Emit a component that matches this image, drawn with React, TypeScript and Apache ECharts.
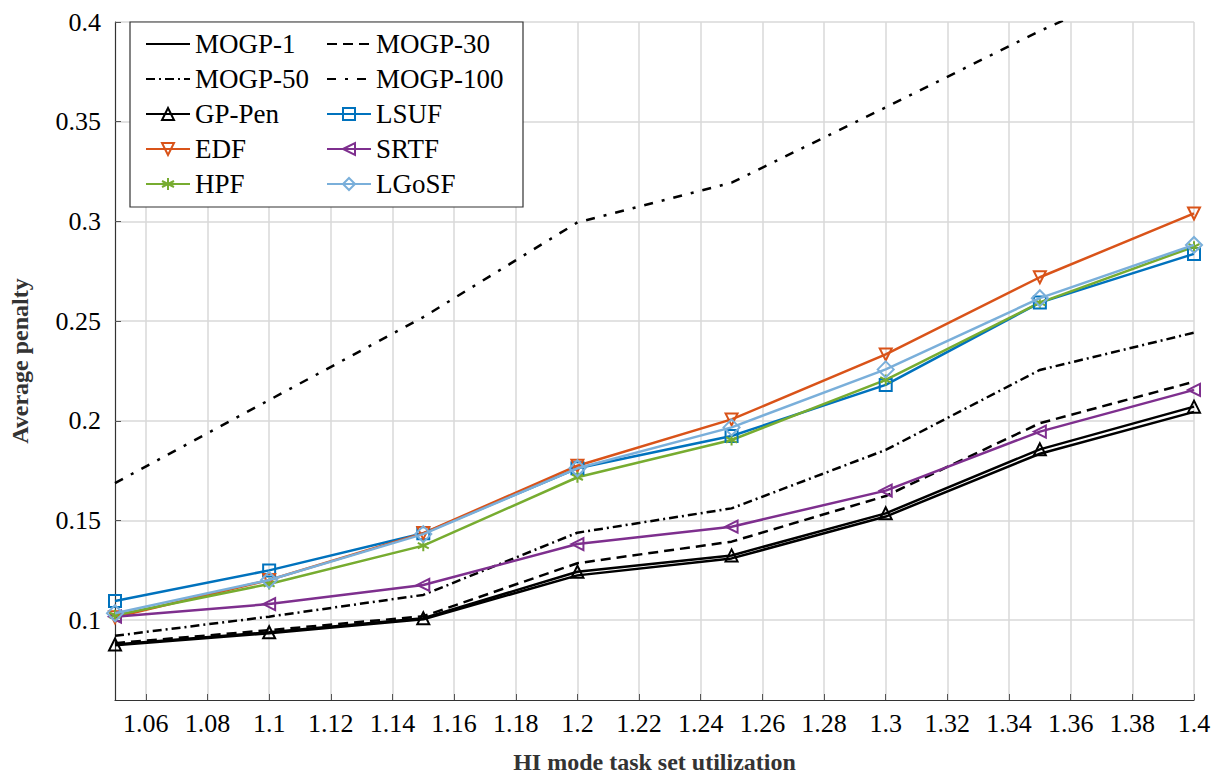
import React, { useEffect, useRef } from "react";
import * as echarts from "echarts";

const xValues = [1.05, 1.1, 1.15, 1.2, 1.25, 1.3, 1.35, 1.4];
const mogp1 = [0.0875, 0.0935, 0.1005, 0.1225, 0.131, 0.152, 0.1835, 0.2045];
const mogp30 = [0.0885, 0.095, 0.102, 0.1286, 0.1394, 0.1623, 0.1988, 0.2196];
const mogp50 = [0.0922, 0.1018, 0.1127, 0.1439, 0.1561, 0.1854, 0.2255, 0.2442];
const mogp100 = [0.1688, 0.2104, 0.252, 0.2995, 0.3194, 0.3572, 0.3955, 0.43];
const gpPen = [0.0878, 0.094, 0.101, 0.1243, 0.1325, 0.1536, 0.1857, 0.2071];
const lsuf = [0.1096, 0.125, 0.1436, 0.1762, 0.1924, 0.218, 0.2593, 0.2837];
const edf = [0.1015, 0.1202, 0.1437, 0.1775, 0.2007, 0.2333, 0.272, 0.304];
const srtf = [0.1018, 0.1081, 0.1177, 0.1382, 0.1469, 0.165, 0.1946, 0.2155];
const hpf = [0.1025, 0.1182, 0.1374, 0.1717, 0.1904, 0.2205, 0.2593, 0.2873];
const lgosf = [0.1035, 0.1202, 0.1432, 0.1762, 0.1967, 0.2258, 0.2615, 0.2882];

const xTicks = [1.06, 1.08, 1.1, 1.12, 1.14, 1.16, 1.18, 1.2, 1.22, 1.24, 1.26, 1.28, 1.3, 1.32, 1.34, 1.36, 1.38, 1.4];
const yTicks = [0.1, 0.15, 0.2, 0.25, 0.3, 0.35, 0.4];

const legendCol1 = ["MOGP-1", "MOGP-50", "GP-Pen", "EDF", "HPF"];
const legendCol2 = ["MOGP-30", "MOGP-100", "LSUF", "SRTF", "LGoSF"];

const SERIF = "Liberation Serif, Times New Roman, serif";
const ASTERISK = "path://M5,0L5,10M0.67,2.5L9.33,7.5M0.67,7.5L9.33,2.5";

const pairs = (ys: number[]) => xValues.map((x, i) => [x, ys[i]]);

function plainLine(name: string, ys: number[], type: any) {
  return {
    name,
    type: "line",
    data: pairs(ys),
    symbol: "none",
    z: 2,
    itemStyle: { color: "rgba(0,0,0,0)", borderWidth: 0 },
    lineStyle: { color: "#000", width: 2.5, type },
  };
}

function markLine(name: string, ys: number[], color: string, symbol: string, size: number, rotate = 0, z = 3) {
  return {
    name,
    type: "line",
    data: pairs(ys),
    symbol,
    symbolSize: size,
    symbolRotate: rotate,
    z,
    itemStyle: { color: "rgba(0,0,0,0)", borderColor: color, borderWidth: 2 },
    lineStyle: { color, width: 2.5 },
  };
}

function legendOf(data: string[], left: number) {
  return {
    data,
    orient: "vertical",
    left,
    top: 24,
    itemWidth: 44,
    itemHeight: 15,
    itemGap: 5,
    textStyle: { fontFamily: SERIF, fontSize: 27, color: "#000", lineHeight: 30 },
    selectedMode: false,
  };
}

export default function App() {
  const ref = useRef<HTMLDivElement>(null);
  useEffect(() => {
    const chart = echarts.init(ref.current!, null, { renderer: "svg" });
    const fmt = (v: number) => String(Number(v.toFixed(2)));
    chart.setOption({
      animation: false,
      backgroundColor: "#fff",
      textStyle: { fontFamily: SERIF },
      grid: { left: 115, right: 26, top: 22, bottom: 76, containLabel: false, outerBoundsMode: "none" },
      graphic: [
        {
          type: "rect",
          z: 3,
          shape: { x: 130, y: 22, width: 393, height: 185 },
          style: { fill: "#fff", stroke: "#333", lineWidth: 1.2 },
        },
      ],
      legend: [legendOf(legendCol1, 140), legendOf(legendCol2, 321)],
      xAxis: {
        type: "value",
        min: 1.05,
        max: 1.4,
        name: "HI mode task set utilization",
        nameLocation: "middle",
        nameGap: 50,
        nameTextStyle: { fontFamily: SERIF, fontSize: 24, fontWeight: "bold", color: "#333" },
        axisLine: { show: true, lineStyle: { color: "#333", width: 1.2 } },
        axisTick: { show: true, inside: true, length: 6, customValues: xTicks, lineStyle: { color: "#555" } },
        axisLabel: { customValues: xTicks, formatter: fmt, fontFamily: SERIF, fontSize: 26, color: "#000", margin: 10 },
        splitLine: { show: true, lineStyle: { color: "#d9d9d9", width: 1.5 } },
      },
      yAxis: {
        type: "value",
        min: 0.06,
        max: 0.4,
        name: "Average penalty",
        nameLocation: "middle",
        nameGap: 83,
        nameTextStyle: { fontFamily: SERIF, fontSize: 24, fontWeight: "bold", color: "#333" },
        axisLine: { show: true, lineStyle: { color: "#333", width: 1.2 } },
        axisTick: { show: true, inside: true, length: 6, customValues: yTicks, lineStyle: { color: "#555" } },
        axisLabel: { customValues: yTicks, formatter: fmt, fontFamily: SERIF, fontSize: 26, color: "#000", margin: 14 },
        splitLine: { show: true, lineStyle: { color: "#d9d9d9", width: 1.5 } },
      },
      series: [
        plainLine("MOGP-1", mogp1, "solid"),
        plainLine("MOGP-30", mogp30, [10, 6]),
        plainLine("MOGP-50", mogp50, [9, 4, 2, 4]),
        plainLine("MOGP-100", mogp100, [9, 9, 3, 9]),
        markLine("GP-Pen", gpPen, "#000000", "triangle", 12),
        markLine("LSUF", lsuf, "#0072BD", "rect", 12),
        markLine("EDF", edf, "#D95319", "triangle", 12, 180),
        markLine("SRTF", srtf, "#7E2F8E", "triangle", 12, 90),
        markLine("HPF", hpf, "#77AC30", ASTERISK, 11),
        markLine("LGoSF", lgosf, "#7AAFDA", "diamond", 16, 0, 4),
      ],
    });
    return () => chart.dispose();
  }, []);
  return <div ref={ref} style={{ position: "fixed", left: 0, top: 0, width: 1220, height: 776 }} />;
}
